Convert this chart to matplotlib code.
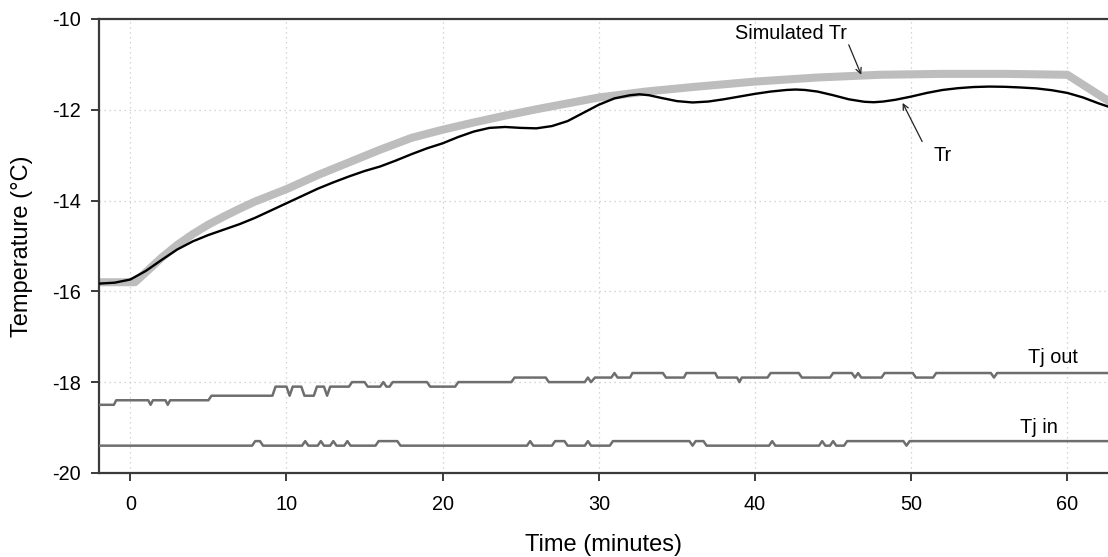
# Reactor temperature vs time: measured Tr, simulated Tr, jacket in/out
import numpy as np
import matplotlib.pyplot as plt

plt.rcParams['font.family'] = ['Liberation Sans', 'DejaVu Sans']
plt.rcParams['axes.unicode_minus'] = False

# measured reactor temperature
tr_time = [-2, -1, 0, 1, 2, 3, 4, 5, 6, 7, 8, 9, 10, 11, 12, 13, 14, 15, 16,
           17, 18, 19, 20, 21, 22, 23, 24, 25, 26, 27, 28, 29, 30, 31, 32,
           32.6, 33.2, 34, 35, 36, 37, 38, 39, 40, 41, 42, 42.6, 43.2, 44, 45,
           46, 47, 47.6, 48.2, 49, 50, 51, 52, 53, 54, 55, 56, 57, 58, 59, 60,
           61, 62, 62.6]
tr_temp = [-15.83, -15.81, -15.74, -15.55, -15.31, -15.08, -14.90, -14.76,
           -14.64, -14.52, -14.38, -14.22, -14.06, -13.90, -13.74, -13.60,
           -13.47, -13.35, -13.25, -13.12, -12.98, -12.85, -12.74, -12.60,
           -12.48, -12.40, -12.38, -12.40, -12.41, -12.36, -12.25, -12.07,
           -11.89, -11.75, -11.68, -11.66, -11.68, -11.74, -11.81, -11.84,
           -11.82, -11.77, -11.71, -11.65, -11.60, -11.565, -11.555, -11.565,
           -11.60, -11.68, -11.77, -11.825, -11.835, -11.82, -11.78, -11.71,
           -11.63, -11.565, -11.525, -11.50, -11.49, -11.495, -11.51, -11.53,
           -11.57, -11.63, -11.73, -11.86, -11.93]

# simulated reactor temperature
sim_time = [-2, 0.3, 1, 2, 3, 4, 5, 6, 7, 8, 10, 12, 14, 16, 18, 20, 22, 24,
            26, 28, 30, 33, 36, 40, 44, 48, 52, 56, 60, 62.6]
sim_temp = [-15.80, -15.80, -15.58, -15.26, -14.98, -14.74, -14.53, -14.35,
            -14.18, -14.02, -13.75, -13.44, -13.16, -12.88, -12.62, -12.44,
            -12.28, -12.13, -11.99, -11.86, -11.73, -11.60, -11.50, -11.38,
            -11.29, -11.23, -11.21, -11.21, -11.23, -11.80]

# jacket outlet temperature
tjo_time = [-2.0, -1.05, -0.9, 1.15, 1.3, 1.45, 2.25, 2.4, 2.55, 5.0, 5.2,
            9.1, 9.3, 10.0, 10.2, 10.4, 10.95, 11.15, 11.75, 11.95, 12.4,
            12.6, 12.8, 14.0, 14.2, 15.0, 15.2, 16.0, 16.2, 16.4, 16.6, 16.8,
            19.0, 19.2, 20.8, 21.0, 24.4, 24.6, 26.6, 26.8, 29.1, 29.3, 29.5,
            29.75, 30.8, 31.0, 31.2, 32.0, 32.15, 34.1, 34.3, 35.45, 35.6,
            37.45, 37.6, 38.85, 39.0, 39.15, 40.8, 41.0, 42.8, 43.0, 44.8,
            45.0, 46.2, 46.4, 46.6, 46.8, 48.1, 48.3, 50.1, 50.3, 51.4, 51.6,
            55.1, 55.3, 55.5, 62.6]
tjo_temp = [-18.5, -18.5, -18.4, -18.4, -18.5, -18.4, -18.4, -18.5, -18.4,
            -18.4, -18.3, -18.3, -18.1, -18.1, -18.3, -18.1, -18.1, -18.3,
            -18.3, -18.1, -18.1, -18.3, -18.1, -18.1, -18.0, -18.0, -18.1,
            -18.1, -18.0, -18.1, -18.1, -18.0, -18.0, -18.1, -18.1, -18.0,
            -18.0, -17.9, -17.9, -18.0, -18.0, -17.9, -18.0, -17.9, -17.9,
            -17.8, -17.9, -17.9, -17.8, -17.8, -17.9, -17.9, -17.8, -17.8,
            -17.9, -17.9, -18.0, -17.9, -17.9, -17.8, -17.8, -17.9, -17.9,
            -17.8, -17.8, -17.9, -17.8, -17.9, -17.9, -17.8, -17.8, -17.9,
            -17.9, -17.8, -17.8, -17.9, -17.8, -17.8]

# jacket inlet temperature
tji_time = [-2, 7.8, 8.0, 8.3, 8.5, 11.0, 11.2, 11.4, 12.0, 12.2, 12.4, 12.8,
            13.0, 13.2, 13.7, 13.9, 14.1, 15.7, 15.9, 17.1, 17.3, 25.4, 25.6,
            25.8, 27.0, 27.2, 27.8, 28.0, 29.1, 29.3, 29.5, 30.7, 30.9, 35.8,
            36.0, 36.2, 36.7, 36.9, 40.9, 41.1, 41.3, 44.1, 44.3, 44.5, 44.8,
            45.0, 45.2, 45.7, 45.9, 49.5, 49.7, 49.9, 62.6]
tji_temp = [-19.4, -19.4, -19.3, -19.3, -19.4, -19.4, -19.3, -19.4, -19.4,
            -19.3, -19.4, -19.4, -19.3, -19.4, -19.4, -19.3, -19.4, -19.4,
            -19.3, -19.3, -19.4, -19.4, -19.3, -19.4, -19.4, -19.3, -19.3,
            -19.4, -19.4, -19.3, -19.4, -19.4, -19.3, -19.3, -19.4, -19.3,
            -19.3, -19.4, -19.4, -19.3, -19.4, -19.4, -19.3, -19.4, -19.4,
            -19.3, -19.4, -19.4, -19.3, -19.3, -19.4, -19.3, -19.3]

fig = plt.figure(figsize=(11.08, 5.57), dpi=100)
ax = fig.add_axes([0.0894, 0.151, 0.9106, 0.815])

ax.plot(sim_time, sim_temp, color='#bdbdbd', lw=5.8, zorder=2)
ax.plot(tr_time, tr_temp, color='black', lw=1.7, zorder=3)
ax.plot(tjo_time, tjo_temp, color='#6e6e6e', lw=1.8, zorder=3)
ax.plot(tji_time, tji_temp, color='#6e6e6e', lw=1.8, zorder=3)

arr = dict(arrowstyle='->', color='#222222', lw=0.9, shrinkA=0, shrinkB=0)
ax.text(42.3, -10.31, 'Simulated Tr', ha='center', va='center', fontsize=14.3)
ax.annotate('', xy=(46.8, -11.23), xytext=(46.0, -10.57), arrowprops=arr)
ax.annotate('', xy=(49.45, -11.85), xytext=(50.7, -12.70), arrowprops=arr)
ax.text(52.0, -13.0, 'Tr', ha='center', va='center', fontsize=14.3)
ax.text(59.05, -17.45, 'Tj out', ha='center', va='center', fontsize=14.3)
ax.text(58.2, -18.99, 'Tj in', ha='center', va='center', fontsize=14.3)

ax.set_xlim(-2, 62.6)
ax.set_ylim(-20, -10)
ax.set_xticks([0, 10, 20, 30, 40, 50, 60])
ax.set_yticks([-20, -18, -16, -14, -12, -10])
ax.grid(True, linestyle=(0, (1, 3)), color='#c8c8c8', lw=0.9)
ax.set_axisbelow(True)

for s in ['left', 'bottom', 'top']:
    ax.spines[s].set_color('#3a3a3a')
    ax.spines[s].set_linewidth(1.6)
ax.spines['right'].set_visible(False)
ax.tick_params(direction='out', length=6, width=1.4, color='#3a3a3a',
               labelsize=14.3)
ax.tick_params(axis='x', pad=10)
ax.tick_params(axis='y', pad=7)

ax.set_xlabel('Time (minutes)', fontsize=17, labelpad=14)
ax.set_ylabel('Temperature (°C)', fontsize=17, labelpad=14)

fig.savefig('out.png', dpi=100)
